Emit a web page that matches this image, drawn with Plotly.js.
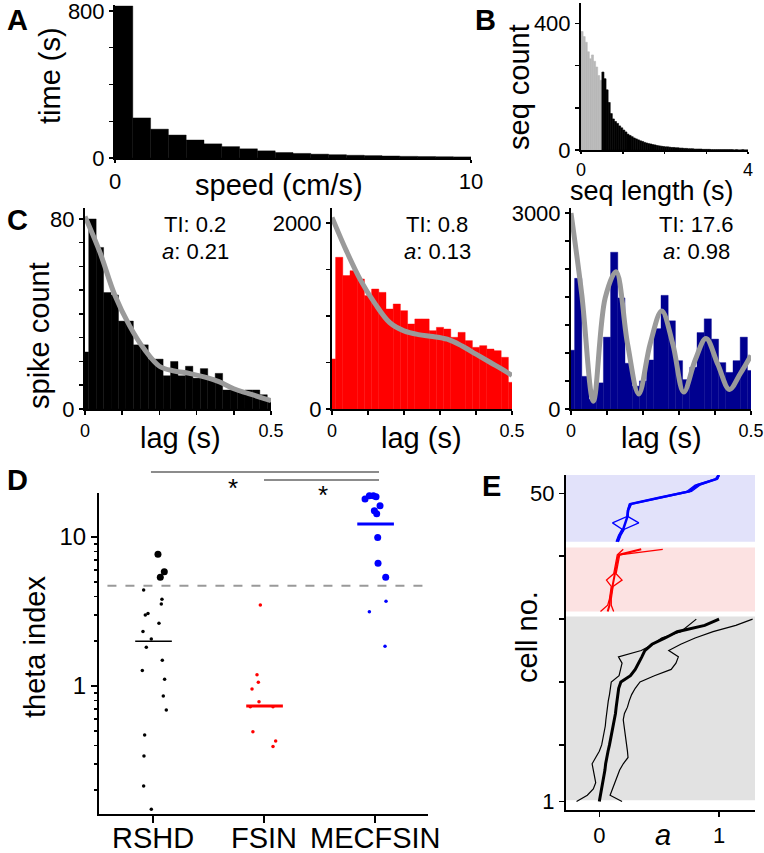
<!DOCTYPE html>
<html><head><meta charset="utf-8">
<script src="https://cdn.plot.ly/plotly-3.0.1.min.js"></script>
<style>html,body{margin:0;padding:0;background:#fff;} #chart{width:764px;height:853px;}</style>
</head><body><div id="chart"></div>
<script>
// ---------- Panel A: time spent per speed bin ----------
const speedCenters = [0.25,0.75,1.25,1.75,2.25,2.75,3.25,3.75,4.25,4.75,5.25,5.75,6.25,6.75,7.25,7.75,8.25,8.75,9.25,9.75];
const speedTime    = [827,218,157,125,98,77,62,50,39,30,25,21,18,15,13,11,9,8,7,6];

// ---------- Panel B: sequence length histogram ----------
const seqBinWidth = 0.05;
const seqCutoff = 0.5;
const seqCounts = [374,358,340,310,288,300,280,262,235,220,
                   246,225,190,150,115,98,90,84,76,70,
                   63,57,50,46,42,38,35,32,29,27,
                   24,22,20,19,17,16,14,13,12,11,
                   10,10,9,8,8,7,7,6,6,5,
                   5,4,4,4,3,3,3,3,2,2,
                   2,2,1,1,1,1,1,1,1,1,
                   1,1,1,0,1,0,0,1,0,0];

// ---------- Panel C: autocorrelograms ----------
const lagCenters = [0,0.02,0.04,0.06,0.08,0.10,0.12,0.14,0.16,0.18,0.20,0.22,0.24,0.26,0.28,0.30,0.32,0.34,0.36,0.38,0.40,0.42,0.44,0.46,0.48,0.50];
const c1Counts = [24,80,68,49,48,37,37,27,27,21,21,14,20,14,18,13,17,13,15,8,8,7,8,8,6,3];
const c2Counts = [538,1631,1434,1487,1398,1219,1290,1254,1075,1129,1057,914,968,968,842,878,860,771,824,735,663,681,645,627,556,287];
const c3Counts = [900,2000,500,150,400,1100,2400,1700,700,350,430,750,1230,1740,1350,740,450,640,1170,1380,1070,710,560,740,1100,590];
const c1FitLag = [0,0.04,0.08,0.12,0.16,0.2,0.24,0.28,0.32,0.36,0.4,0.44,0.48,0.5];
const c1Fit    = [81,66,48,35,25,18,16,15,13.5,11.5,8.5,6.5,4.5,3.5];
const c2FitLag = [0,0.04,0.08,0.12,0.16,0.2,0.24,0.28,0.32,0.36,0.4,0.44,0.48,0.5];
const c2Fit    = [2060,1700,1380,1130,930,840,800,780,750,680,590,500,410,360];
const c3FitLag = [0,0.03,0.062,0.095,0.125,0.157,0.188,0.22,0.252,0.283,0.313,0.345,0.375,0.408,0.44,0.47,0.5];
const c3Fit    = [3000,1750,120,1700,2100,1000,230,1000,1500,990,260,750,1080,680,300,540,820];
const cLabels = [['TI: 0.2','<i>a</i>: 0.21'],['TI: 0.8','<i>a</i>: 0.13'],['TI: 17.6','<i>a</i>: 0.98']];

// ---------- Panel D: theta index ----------
const groups = ['RSHD','FSIN','MECFSIN'];
const rshdLargeX = [0.045,0.066,0.102];
const rshdLargeY = [7.65,5.36,5.85];
const rshdSmallX = [-0.084,0.081,0.075,-0.045,-0.069,0.054,-0.09,-0.015,-0.06,0.084,-0.096,0.105,0.093,0.12,-0.075,-0.081,-0.084,-0.015];
const rshdSmallY = [4.41,3.82,3.55,3.07,3.0,2.64,2.32,2.07,1.82,1.49,1.27,1.11,0.857,0.69,0.469,0.339,0.213,0.149];
const fsinX = [-0.033,-0.063,-0.051,-0.108,-0.045,-0.123,0.081,-0.1,0.105,0.081];
const fsinY = [3.5,1.19,1.06,0.955,0.785,0.726,0.726,0.494,0.428,0.392];
const mecLargeX = [-0.09,-0.051,-0.015,0.009,0.045,-0.006,0.015,0.024,0.027,0.096];
const mecLargeY = [18.0,18.9,18.9,18.6,16.2,15.0,14.3,9.9,6.66,5.36];
const mecSmallX = [0.099,-0.051,0.09];
const mecSmallY = [3.7,3.15,1.85];
const medians = [2.0,0.734,12.2];
const thetaThreshold = 4.7;

// ---------- Panel E: a per cell ----------
const rsCells = [1,2,3,4,5,6,7,8,9,10,11,12,13,14,15,16,17,18,19,20,21,22,23,24,25,26,27,28,29,30];
const rsMed = [0.0,0.01,0.017,0.027,0.04,0.047,0.053,0.06,0.073,0.085,0.096,0.108,0.117,0.127,0.135,0.141,0.148,0.154,0.162,0.18,0.26,0.3,0.33,0.355,0.38,0.44,0.55,0.65,0.88,1.0];
const rsLo  = [-0.19,-0.1,-0.05,-0.03,-0.04,-0.05,-0.06,-0.03,0.0,0.02,0.03,0.045,0.05,0.055,0.06,0.065,0.075,0.085,0.09,0.1,0.165,0.175,0.19,0.16,0.35,0.45,0.52,0.68,0.75,0.81];
const rsHi  = [0.19,0.09,0.11,0.13,0.15,0.17,0.2,0.24,0.235,0.228,0.22,0.214,0.205,0.2,0.21,0.235,0.25,0.27,0.3,0.34,0.46,0.6,0.64,0.66,0.58,0.68,0.8,0.95,1.14,1.28];
const fsCells = [31.2,32.2,33.2,34.2,35.2,36.2,37.2,38.2,39.2,40.2,41.1];
const fsMed = [0.07,0.085,0.09,0.1,0.105,0.12,0.13,0.14,0.15,0.16,0.35];
const fsLo  = [0.01,0.07,0.085,0.095,0.1,0.06,0.12,0.13,0.14,0.15,0.2];
const fsHi  = [0.12,0.1,0.1,0.11,0.115,0.19,0.14,0.15,0.16,0.17,0.53];
const mecCells = [42.3,43.3,44.3,45.3,46.3,47.3,48.3,49.3,50.3,51.3,52.3,52.9];
const mecMed = [0.15,0.17,0.2,0.22,0.235,0.24,0.26,0.5,0.75,0.82,0.98,1.0];
const mecLo  = [0.14,0.16,0.19,0.11,0.23,0.235,0.25,0.48,0.73,0.8,0.97,0.99];
const mecHi  = [0.16,0.18,0.21,0.33,0.24,0.245,0.27,0.52,0.77,0.84,0.99,1.0];
const bands = [[1.2,30.4,'rgb(226,226,226)'],[31.2,41.4,'rgb(252,226,226)'],[42.3,53,'rgb(226,226,250)']];

// ---------- layout helpers ----------
const W = 764, H = 853;
const FONT = 'Liberation Sans, Arial, Helvetica, sans-serif';
const dx = (a,b) => [a/W, b/W];
const dy = (top,bot) => [1-bot/H, 1-top/H];
function ax(extra){
  return Object.assign({showline:true, linecolor:'#000', linewidth:2, ticks:'outside', ticklen:4, tickwidth:1.5,
    tickcolor:'#000', showgrid:false, zeroline:false, fixedrange:true, ticklabeloverflow:'allow',
    tickfont:{family:FONT, size:22, color:'#000'}}, extra);
}
function ann(text, px, py, size, extra){
  return Object.assign({text, x:px/W, y:1-py/H, xref:'paper', yref:'paper', showarrow:false,
    xanchor:'center', yanchor:'middle', font:{family:FONT, size, color:'#000'}}, extra||{});
}
const seqCenters = seqCounts.map((_, i) => seqBinWidth*(i+0.5));

const traces = [];
// A
traces.push({type:'bar', x:speedCenters, y:speedTime, width:0.5, marker:{color:'#000', line:{width:0.4, color:'#000'}}, xaxis:'x', yaxis:'y'});
// B
const seqColors = seqCenters.map(c => c < seqCutoff ? '#b8b8b8' : '#000');
traces.push({type:'bar', x:seqCenters, y:seqCounts, width:seqBinWidth,
  marker:{color:seqColors, line:{width:0.6, color:seqColors}}, xaxis:'x2', yaxis:'y2'});
// C
const cData = [[c1Counts,c1FitLag,c1Fit,'#000'],[c2Counts,c2FitLag,c2Fit,'#ff0000'],[c3Counts,c3FitLag,c3Fit,'#00008f']];
cData.forEach((d,i) => {
  const n = i+3;
  traces.push({type:'bar', x:lagCenters, y:d[0], width:0.02, marker:{color:d[3], line:{width:0.4, color:d[3]}}, xaxis:'x'+n, yaxis:'y'+n});
  traces.push({type:'scatter', mode:'lines', x:d[1], y:d[2], line:{color:'#9a9a9a', width:5, shape:'spline', smoothing:1},
    xaxis:'x'+n, yaxis:'y'+n, cliponaxis:true});
});
// D
const gi = {RSHD:0, FSIN:1, MECFSIN:2};
function pts(offs, vals, g, color, size){
  traces.push({type:'scatter', mode:'markers', x:offs.map(o => gi[g]+o), y:vals,
    marker:{color, size, line:{width:0}}, xaxis:'x6', yaxis:'y6', cliponaxis:false});
}
pts(rshdSmallX, rshdSmallY, 'RSHD', '#000', 3.5);
pts(rshdLargeX, rshdLargeY, 'RSHD', '#000', 7);
pts(fsinX, fsinY, 'FSIN', '#ff0000', 3.5);
pts(mecSmallX, mecSmallY, 'MECFSIN', '#0000ff', 3.5);
pts(mecLargeX, mecLargeY, 'MECFSIN', '#0000ff', 7);
const medColors = ['#000','#ff0000','#0000ff'], medWidths = [1.5,3,3];
groups.forEach((g,i) => {
  traces.push({type:'scatter', mode:'lines', x:[gi[g]-0.16, gi[g]+0.17], y:[medians[i],medians[i]],
    line:{color:medColors[i], width:medWidths[i]}, xaxis:'x6', yaxis:'y6'});
});
// E
function eline(xs, ys, color, width){
  traces.push({type:'scatter', mode:'lines', x:xs, y:ys, line:{color, width}, xaxis:'x7', yaxis:'y7', cliponaxis:false});
}
eline(rsLo, rsCells, '#000', 1.2);
eline(rsHi, rsCells, '#000', 1.2);
eline(rsMed, rsCells, '#000', 3);
eline(fsLo, fsCells, '#ff0000', 1.3);
eline(fsHi, fsCells, '#ff0000', 1.3);
eline(fsMed, fsCells, '#ff0000', 2);
eline(mecLo, mecCells, '#0000ff', 1.3);
eline(mecHi, mecCells, '#0000ff', 1.3);
eline(mecMed, mecCells, '#0000ff', 2.5);

const shapes = [];
bands.forEach(b => shapes.push({type:'rect', xref:'x7 domain', yref:'y7', x0:0, x1:1, y0:b[0], y1:b[1],
  fillcolor:b[2], line:{width:0}, layer:'below'}));
shapes.push({type:'line', xref:'x6', yref:'y6', x0:-0.41, x1:2.477, y0:thetaThreshold, y1:thetaThreshold,
  line:{color:'#999', width:2, dash:'dash'}});
shapes.push({type:'line', xref:'x6', yref:'paper', x0:-0.018, x1:2.036, y0:1-472/H, y1:1-472/H, line:{color:'#666', width:1.5}});
shapes.push({type:'line', xref:'x6', yref:'paper', x0:1.0, x1:2.036, y0:1-480/H, y1:1-480/H, line:{color:'#666', width:1.5}});

const annotations = [
  ann('<b>A</b>',17,20,29), ann('<b>B</b>',485,20,29), ann('<b>C</b>',17,220,29), ann('<b>D</b>',17,480,29), ann('<b>E</b>',491,486,29),
  ann('time (s)',50,76,29,{textangle:-90}),
  ann('speed (cm/s)',279,185,29),
  ann('seq count',519,87,29,{textangle:-90}),
  ann('seq length (s)',652,191,27),
  ann('spike count',39,336,29,{textangle:-90}),
  ann('lag (s)',180,438,29), ann('lag (s)',421,438,29), ann('lag (s)',661,438,29),
  ann('theta index',35,647,29,{textangle:-90}),
  ann('*',233,488,26), ann('*',323,495,26),
  ann('cell no.',527,637,29,{textangle:-90}),
  ann('<i>a</i>',663,835,29)
];
const catX = [153,264,375];
groups.forEach((g,i) => annotations.push(ann(g, catX[i], 838, 29)));
const cTextX = [195,437,696];
cLabels.forEach((l,i) => { annotations.push(ann(l[0],cTextX[i],225,22)); annotations.push(ann(l[1],cTextX[i],251,22)); });

const cx = {tickvals:[0,0.1,0.2,0.3,0.4,0.5], ticktext:['0','','','','','0.5'], tickfont:{family:FONT, size:18, color:'#000'}};
const layout = {
  width:W, height:H, margin:{l:0,r:0,t:0,b:0}, showlegend:false,
  paper_bgcolor:'#fff', plot_bgcolor:'rgba(0,0,0,0)', font:{family:FONT, color:'#000'},
  xaxis: ax({domain:dx(115,471), range:[0,10], anchor:'y', tickvals:[0,10], ticklen:3}),
  yaxis: ax({domain:dy(5,158), range:[0,832.6], anchor:'x', tickvals:[0,200,400,600,800], ticktext:['0','','','','800']}),
  xaxis2: ax({domain:dx(581,748), range:[0,4], anchor:'y2', tickvals:[0,1,2,3,4], ticktext:['0','','','','4'], ticklen:2,
    tickfont:{family:FONT, size:18, color:'#000'}}),
  yaxis2: ax({domain:dy(3,150), range:[0,464], anchor:'x2', tickvals:[0,133.3,266.7,400], ticktext:['0','','','400']}),
  xaxis3: ax(Object.assign({domain:dx(85,271), range:[0,0.5], anchor:'y3'}, cx)),
  yaxis3: ax({domain:dy(208,409), range:[0,84.6], anchor:'x3', tickvals:[0,10,20,30,40,50,60,70,80], ticktext:['0','','','','','','','','80']}),
  xaxis4: ax(Object.assign({domain:dx(332,512), range:[0,0.5], anchor:'y4'}, cx)),
  yaxis4: ax({domain:dy(208,409), range:[0,2161], anchor:'x4', tickvals:[0,500,1000,1500,2000], ticktext:['0','','','','2000']}),
  xaxis5: ax(Object.assign({domain:dx(571,751), range:[0,0.5], anchor:'y5'}, cx)),
  yaxis5: ax({domain:dy(208,409), range:[0,3077], anchor:'x5', tickvals:[0,428.6,857.1,1285.7,1714.3,2142.9,2571.4,3000], ticktext:['0','','','','','','','3000']}),
  xaxis6: ax({domain:dx(99,428), range:[-0.486,2.477], anchor:'y6', tickvals:[0,1,2], showticklabels:false, ticklen:7}),
  yaxis6: ax({domain:dy(493,814), type:'log', range:[-0.859,1.295], anchor:'x6', tickvals:[1,10], ticktext:['1','10'], ticklen:6,
    tickfont:{family:FONT, size:24, color:'#000'},
    minor:{ticks:'outside', ticklen:3, tickcolor:'#000', tickwidth:1.5, tickvals:[0.2,0.3,0.4,0.5,0.6,0.7,0.8,0.9,2,3,4,5,6,7,8,9]}}),
  xaxis7: ax({domain:dx(566,755), range:[-0.278,1.30], anchor:'y7', tickvals:[0,1], ticklen:5}),
  yaxis7: ax({domain:dy(475,810), range:[-0.35,52.91], anchor:'x7', tickvals:[1,10,20,30,40,50], ticktext:['1','','','','','50'], ticklen:5}),
  shapes, annotations
};
Plotly.newPlot('chart', traces, layout, {staticPlot:true, displayModeBar:false});
</script></body></html>
